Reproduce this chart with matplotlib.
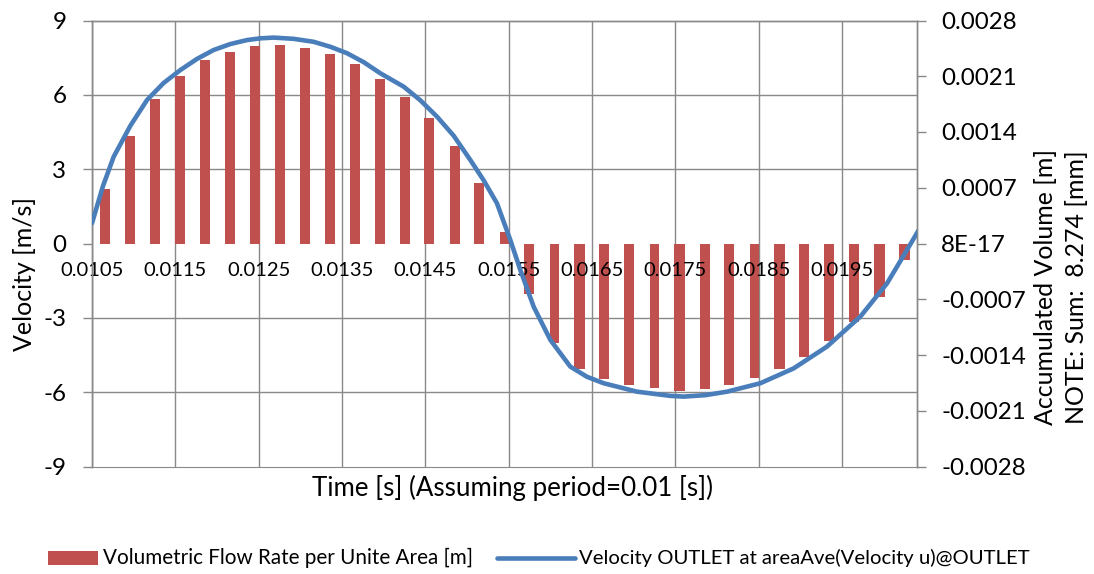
import matplotlib
matplotlib.use("Agg")
import matplotlib.pyplot as plt
from matplotlib.patches import Rectangle
from matplotlib.lines import Line2D

plt.rcParams['font.family'] = ['Lato', 'DejaVu Sans']
plt.rcParams['axes.unicode_minus'] = False

# Volumetric flow rate per unit area [m], one column every 0.0003 s from 0.0105 s
flow_start = 0.0105
flow_step = 0.0003
flow_rate = [
    0.00068, 0.00135, 0.00181, 0.00210, 0.00230, 0.00241, 0.00248, 0.00249,
    0.00246, 0.00238, 0.00225, 0.00207, 0.00184, 0.00157, 0.00122, 0.00076,
    0.00015, -0.00063, -0.00125, -0.00157, -0.00170, -0.00178, -0.00182,
    -0.00185, -0.00183, -0.00178, -0.00169, -0.00158, -0.00143, -0.00123,
    -0.00098, -0.00067, -0.00021,
]

# Area-averaged outlet velocity [m/s]
vel_time = [
    0.01050, 0.01063, 0.01076, 0.01096, 0.01116, 0.01136, 0.01156, 0.01176, 0.01196,
    0.01216, 0.01236, 0.01252, 0.01268, 0.01292, 0.01316, 0.01336, 0.01356,
    0.01376, 0.01396, 0.01424, 0.01444, 0.01464, 0.01484, 0.01504, 0.01520,
    0.01536, 0.01552, 0.01564, 0.01580, 0.01600, 0.01624, 0.01644, 0.01664,
    0.01704, 0.01744, 0.01760, 0.01786, 0.01812, 0.01852, 0.01892, 0.01932,
    0.01972, 0.02004, 0.02028, 0.02042,
]
vel_value = [
    0.82, 2.30, 3.50, 4.75, 5.79, 6.48, 7.00, 7.45, 7.81,
    8.05, 8.21, 8.28, 8.31, 8.26, 8.14, 7.94, 7.68,
    7.32, 6.87, 6.33, 5.78, 5.12, 4.35, 3.37, 2.55,
    1.62, 0.14, -1.07, -2.55, -3.89, -4.97, -5.38, -5.64,
    -5.98, -6.15, -6.18, -6.12, -5.98, -5.64, -5.04, -4.16,
    -2.95, -1.61, -0.26, 0.54,
]

x_ticks = [0.0105, 0.0115, 0.0125, 0.0135, 0.0145, 0.0155, 0.0165, 0.0175, 0.0185, 0.0195]
x_tick_labels = ['0.0105', '0.0115', '0.0125', '0.0135', '0.0145', '0.0155',
                 '0.0165', '0.0175', '0.0185', '0.0195']
left_ticks = [-9, -6, -3, 0, 3, 6, 9]
right_ticks = [-0.0028, -0.0021, -0.0014, -0.0007, 0.0, 0.0007, 0.0014, 0.0021, 0.0028]
right_tick_labels = ['-0.0028', '-0.0021', '-0.0014', '-0.0007', '8E-17',
                     '0.0007', '0.0014', '0.0021', '0.0028']
left_lim = (-9, 9)
right_lim = (-0.0028, 0.0028)

bar_color = '#C0504D'
line_color = '#4A7EBB'
grid_color = '#898989'

W, H = 1094, 574
fig = plt.figure(figsize=(W / 100, H / 100), dpi=100)
left_px, right_px, top_px, bottom_px = 92, 917, 20.5, 466.5
ax = fig.add_axes([left_px / W, 1 - bottom_px / H,
                   (right_px - left_px) / W, (bottom_px - top_px) / H])
ax2 = ax.twinx()

# Bars and grid live on the secondary axes, underneath the velocity line
ax.set_zorder(ax2.get_zorder() + 1)
ax.patch.set_visible(False)
ax2.patch.set_visible(True)
ax2.patch.set_facecolor('white')

x_end = flow_start + len(flow_rate) * flow_step
bar_x = [flow_start + (i + 0.5) * flow_step for i in range(len(flow_rate))]
ax2.bar(bar_x, flow_rate, width=0.4 * flow_step, color=bar_color, zorder=2)
ax2.set_ylim(*right_lim)
ax2.set_yticks(right_ticks, labels=right_tick_labels)
ax2.tick_params(axis='y', which='major', direction='out', length=6.5, width=1,
                color=grid_color, labelsize=17.4, pad=11)

# Horizontal grid follows the velocity ticks, mapped onto the right-hand scale
scale = right_lim[1] / left_lim[1]
ax2.set_yticks([t * scale for t in left_ticks], minor=True)
ax2.tick_params(axis='y', which='minor', length=0, right=False, left=False)
ax2.grid(True, axis='y', which='minor', color=grid_color, linewidth=1.0)
ax2.grid(False, axis='y', which='major')

ax2.xaxis.set_visible(True)
ax2.set_xticks(x_ticks)
ax2.tick_params(axis='x', bottom=False, top=False, labelbottom=False, labeltop=False)
ax2.grid(True, axis='x', color=grid_color, linewidth=1.0)
ax2.set_axisbelow(True)

ax.plot(vel_time, vel_value, color=line_color, linewidth=3.3,
        solid_capstyle='round', solid_joinstyle='round', zorder=3)
ax.set_xlim(flow_start, x_end)
ax.set_ylim(*left_lim)
ax.set_yticks(left_ticks)
ax.tick_params(axis='y', direction='out', length=6.5, width=1, color=grid_color,
               labelsize=17.4, pad=12)
ax.set_xticks(x_ticks, labels=x_tick_labels)
ax.spines['bottom'].set_position(('data', 0))
ax.spines['bottom'].set_visible(False)
ax.tick_params(axis='x', length=0, labelsize=14.5, pad=13)

for a in (ax, ax2):
    for side in ('left', 'right', 'top'):
        a.spines[side].set_color(grid_color)
        a.spines[side].set_linewidth(1.0)
ax2.spines['bottom'].set_color(grid_color)

# Axis titles
fig.text(25 / W, 1 - 274 / H, 'Velocity [m/s]', rotation=90, fontsize=18,
         ha='center', va='center')
fig.text(1061 / W, 1 - 287 / H, 'Accumulated Volume [m]\nNOTE: Sum:  8.274 [mm]',
         rotation=90, fontsize=17.9, ha='center', va='center', multialignment='center',
         linespacing=1.4)
fig.text(512 / W, 1 - 488 / H, 'Time [s] (Assuming period=0.01 [s])', fontsize=18.6,
         ha='center', va='center')

# Legend row
leg_y = 558
fig.add_artist(Rectangle((48 / W, 1 - (leg_y + 7) / H), 50 / W, 14 / H,
                         transform=fig.transFigure, facecolor=bar_color, edgecolor='none'))
fig.text(103 / W, 1 - leg_y / H, 'Volumetric Flow Rate per Unite Area [m]',
         fontsize=14.9, ha='left', va='center')
fig.add_artist(Line2D([497 / W, 575 / W], [1 - leg_y / H, 1 - leg_y / H],
                      transform=fig.transFigure, color=line_color, linewidth=3.3,
                      solid_capstyle='round'))
fig.text(579 / W, 1 - leg_y / H, 'Velocity OUTLET at areaAve(Velocity u)@OUTLET',
         fontsize=14.6, ha='left', va='center')

fig.savefig('out.png', dpi=100)
